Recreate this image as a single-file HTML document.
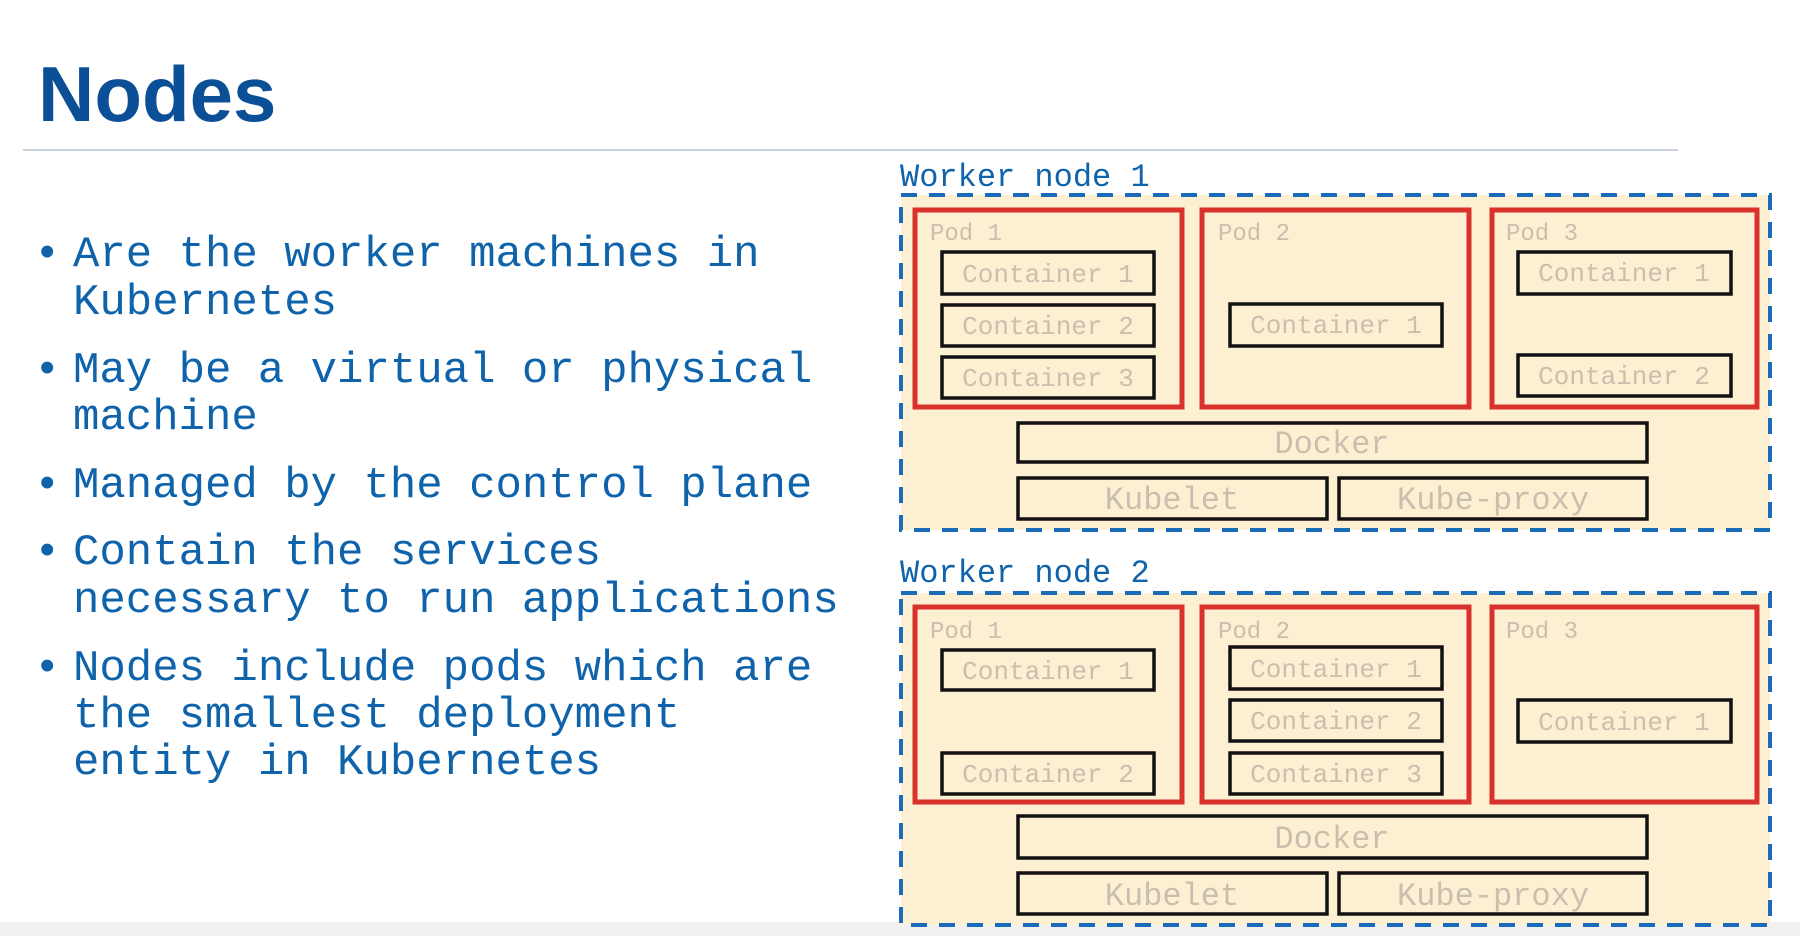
<!DOCTYPE html>
<html><head><meta charset="utf-8"><style>
html,body{margin:0;padding:0;background:#fff;}
body{width:1800px;height:936px;overflow:hidden;position:relative;}
svg{position:absolute;left:0;top:0;}
</style></head><body>
<svg width="1800" height="936" viewBox="0 0 1800 936" xmlns="http://www.w3.org/2000/svg">
<rect x="0" y="922" width="1800" height="14" fill="#f1f1f1"/>
<text x="38" y="121" font-family="Liberation Sans, sans-serif" font-weight="bold" font-size="78" fill="#0b4f96">Nodes</text>
<line x1="23" y1="150" x2="1678" y2="150" stroke="#c9d1da" stroke-width="2"/>
<g font-family="Liberation Mono, monospace" font-size="44" fill="#0f63ab">
<text x="34" y="266">•</text>
<text x="73" y="266">Are the worker machines in</text>
<text x="73" y="314">Kubernetes</text>
<text x="34" y="382">•</text>
<text x="73" y="382">May be a virtual or physical</text>
<text x="73" y="429">machine</text>
<text x="34" y="497">•</text>
<text x="73" y="497">Managed by the control plane</text>
<text x="34" y="564">•</text>
<text x="73" y="564">Contain the services</text>
<text x="73" y="612">necessary to run applications</text>
<text x="34" y="680">•</text>
<text x="73" y="680">Nodes include pods which are</text>
<text x="73" y="727">the smallest deployment</text>
<text x="73" y="774">entity in Kubernetes</text>
</g>

<g font-family="Liberation Mono, monospace">
<!-- Worker node 1 -->
<text x="900" y="186" font-size="32" fill="#0f63ab">Worker node 1</text>
<rect x="901" y="195" width="869" height="335" fill="#fdefd2" stroke="#1a6cb8" stroke-width="4" stroke-dasharray="16,12"/>
<g fill="none" stroke="#d9312b" stroke-width="5">
<rect x="915" y="210" width="267" height="197"/>
<rect x="1202" y="210" width="267" height="197"/>
<rect x="1492" y="210" width="265" height="197"/>
</g>
<g fill="none" stroke="#111" stroke-width="3.5">
<rect x="942" y="252" width="212" height="42"/>
<rect x="942" y="305" width="212" height="41"/>
<rect x="942" y="357" width="212" height="41"/>
<rect x="1230" y="304" width="212" height="42"/>
<rect x="1518" y="252" width="213" height="42"/>
<rect x="1518" y="355" width="213" height="41"/>
<rect x="1018" y="423" width="629" height="39"/>
<rect x="1018" y="478" width="309" height="41"/>
<rect x="1339" y="478" width="308" height="41"/>
</g>
<g fill="#c9bfae" font-size="26" text-anchor="middle">
<text x="1048" y="282">Container 1</text>
<text x="1048" y="334">Container 2</text>
<text x="1048" y="386">Container 3</text>
<text x="1336" y="333">Container 1</text>
<text x="1624" y="281">Container 1</text>
<text x="1624" y="384">Container 2</text>
<text x="1332" y="453" font-size="32">Docker</text>
<text x="1172" y="509" font-size="32">Kubelet</text>
<text x="1493" y="509" font-size="32">Kube-proxy</text>
</g>
<g fill="#c9bfae" font-size="24">
<text x="930" y="240">Pod 1</text>
<text x="1218" y="240">Pod 2</text>
<text x="1506" y="240">Pod 3</text>
</g>

<!-- Worker node 2 -->
<text x="900" y="582" font-size="32" fill="#0f63ab">Worker node 2</text>
<rect x="901" y="593" width="869" height="332" fill="#fdefd2" stroke="#1a6cb8" stroke-width="4" stroke-dasharray="16,12"/>
<g fill="none" stroke="#d9312b" stroke-width="5">
<rect x="915" y="607" width="267" height="195"/>
<rect x="1202" y="607" width="267" height="195"/>
<rect x="1492" y="607" width="265" height="195"/>
</g>
<g fill="none" stroke="#111" stroke-width="3.5">
<rect x="942" y="650" width="212" height="40"/>
<rect x="942" y="753" width="212" height="41"/>
<rect x="1230" y="647" width="212" height="42"/>
<rect x="1230" y="700" width="212" height="41"/>
<rect x="1230" y="753" width="212" height="41"/>
<rect x="1518" y="700" width="213" height="42"/>
<rect x="1018" y="816" width="629" height="42"/>
<rect x="1018" y="873" width="309" height="41"/>
<rect x="1339" y="873" width="308" height="41"/>
</g>
<g fill="#c9bfae" font-size="26" text-anchor="middle">
<text x="1048" y="679">Container 1</text>
<text x="1048" y="782">Container 2</text>
<text x="1336" y="677">Container 1</text>
<text x="1336" y="729">Container 2</text>
<text x="1336" y="782">Container 3</text>
<text x="1624" y="730">Container 1</text>
<text x="1332" y="848" font-size="32">Docker</text>
<text x="1172" y="905" font-size="32">Kubelet</text>
<text x="1493" y="905" font-size="32">Kube-proxy</text>
</g>
<g fill="#c9bfae" font-size="24">
<text x="930" y="638">Pod 1</text>
<text x="1218" y="638">Pod 2</text>
<text x="1506" y="638">Pod 3</text>
</g>
</g>
</svg>
</body></html>
